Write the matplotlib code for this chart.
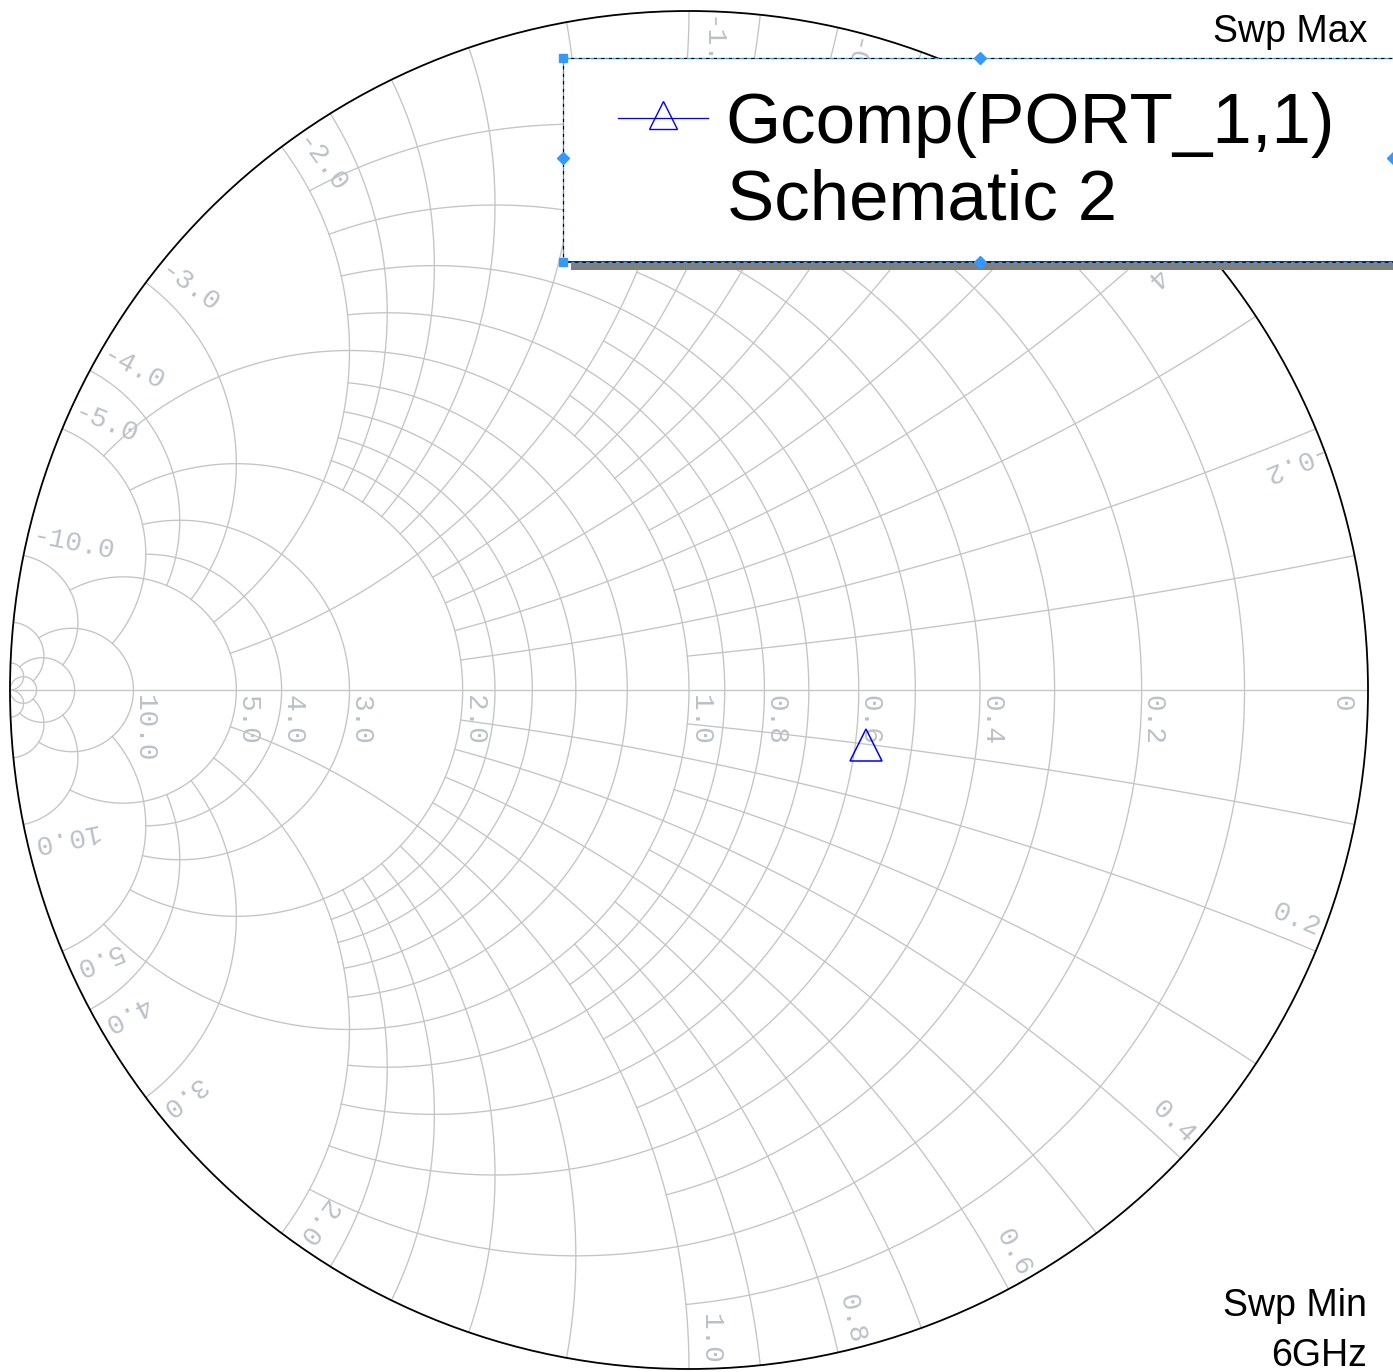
import numpy as np
import matplotlib.pyplot as plt
from matplotlib.patches import Circle, Rectangle

# canvas size and chart circle (pixels)
W, H = 1393, 1372
CX, CY, RAD = 689, 690, 679
px = 1.0 / RAD

# admittance grid: circle value and how far (in the other coordinate) it is drawn
grid_values = [0.1, 0.2, 0.3, 0.4, 0.5, 0.6, 0.7, 0.8, 0.9, 1.0,
               1.2, 1.4, 1.6, 1.8, 2.0, 3.0, 4.0, 5.0, 10.0, 20.0, 50.0]
grid_limits = [1, 2, 1, 2, 1, 2, 1, 2, 1, 5,
               2, 2, 2, 2, 5, 5, 5, 10, 20, 50, 1e4]

rim_values = [0.2, 0.4, 0.6, 0.8, 1.0, 2.0, 3.0, 4.0, 5.0, 10.0]
axis_values = [10.0, 5.0, 4.0, 3.0, 2.0, 1.0, 0.8, 0.6, 0.4, 0.2]

# Gcomp(PORT_1,1) trace
gamma_re = [0.261]
gamma_im = [-0.081]

legend_name = "Gcomp(PORT_1,1)"
legend_source = "Schematic 2"
swp_max = "Swp Max"
swp_min = ["Swp Min", "6GHz"]


def to_gamma(g, b):
    y = g + 1j * b
    return (1 - y) / (1 + y)


fig = plt.figure(figsize=(W / 100, H / 100), dpi=100)
ax = fig.add_axes([0, 0, 1, 1])
ax.set_xlim(-CX / RAD, (W - CX) / RAD)
ax.set_ylim((CY - H) / RAD, CY / RAD)
ax.axis('off')

grid_kw = dict(color='#c4c4c4', lw=0.95, zorder=1)
for v, lim in zip(grid_values, grid_limits):
    # conductance circle
    u = np.linspace(-np.arctan(lim), np.arctan(lim), 1500)
    gm = to_gamma(v, np.tan(u))
    ax.plot(gm.real, gm.imag, **grid_kw)
    # susceptance arcs
    u = np.linspace(0, np.arctan(lim), 1500)
    for s in (1, -1):
        gm = to_gamma(np.tan(u), s * v)
        ax.plot(gm.real, gm.imag, **grid_kw)
ax.plot([-1, 1], [0, 0], **grid_kw)
ax.add_patch(Circle((0, 0), 1, fill=False, ec='black', lw=1.3, zorder=3))

lab_kw = dict(family='Liberation Mono', fontsize=20, color='#bcc0ca',
              rotation_mode='anchor', va='center', zorder=2)

for v in rim_values:
    txt = "%.1f" % v
    phi = 2 * np.arctan(v)
    for s in (1, -1):
        a = s * phi
        r = 1 - 5 * px
        x0, y0 = r * np.cos(a), r * np.sin(a)
        if s > 0:
            d = (np.sin(a), -np.cos(a))
            rot = np.degrees(a) - 180
            ha = 'left'
            t = '-' + txt
        else:
            d = (-np.sin(a), np.cos(a))
            rot = np.degrees(a)
            ha = 'right'
            t = txt
        ax.text(x0 + 21 * px * d[0], y0 + 21 * px * d[1], t,
                rotation=rot, ha=ha, **lab_kw)

for v in axis_values:
    x0 = (1 - v) / (1 + v)
    ax.text(x0 + 11 * px, -5 * px, "%.1f" % v, rotation=-90, ha='left', **lab_kw)
ax.text(1 - 27 * px, -5 * px, "0", rotation=-90, ha='left', **lab_kw)

ax.plot(gamma_re, gamma_im, ls='none', marker='^', ms=23.5, mfc='none',
        mec='#0000ff', mew=1.1, zorder=4)

# overlay in pixel coordinates for the legend box and sweep notes
ov = fig.add_axes([0, 0, 1, 1])
ov.set_xlim(0, W)
ov.set_ylim(H, 0)
ov.axis('off')
ov.patch.set_visible(False)

sel = '#3399ff'
ov.add_patch(Rectangle((571, 262), 900, 8, fc='#7f7f7f', ec='none'))
ov.add_patch(Rectangle((563, 58), 900, 204, fc='white', ec='none'))
ov.plot([563, 1400], [262, 262], color='black', lw=1.2)
ov.plot([563, 1400], [262, 262], color=sel, lw=0.9, ls=(0, (3, 3)))
for xs, ys in (([563, 1400], [58, 58]), ([563, 563], [58, 262])):
    ov.plot(xs, ys, color='black', lw=0.9, ls=(0, (3, 3)))
    ov.plot(xs, ys, color=sel, lw=0.9, ls=(3, (3, 3)))
ov.plot([563, 563], [58, 262], ls='none', marker='s', ms=6, color=sel)
ov.plot([980, 980, 563, 1393], [58, 262, 158, 158], ls='none', marker='D', ms=6, color=sel)

ov.plot([618, 708], [118, 118], color='#0000ff', lw=0.9)
ov.plot([663], [115], marker='^', ms=20.5, mfc='none', mec='#0000ff', mew=1.0)
ov.text(725, 143, legend_name, fontsize=51, family='Liberation Sans', va='baseline')
ov.text(727, 220, legend_source, fontsize=51, family='Liberation Sans', va='baseline')

ov.text(1367, 42, swp_max, fontsize=27, family='Liberation Sans', ha='right', va='baseline')
ov.text(1367, 1316, swp_min[0], fontsize=27, family='Liberation Sans', ha='right', va='baseline')
ov.text(1367, 1366, swp_min[1], fontsize=27, family='Liberation Sans', ha='right', va='baseline')

fig.savefig('out.png', dpi=100)
